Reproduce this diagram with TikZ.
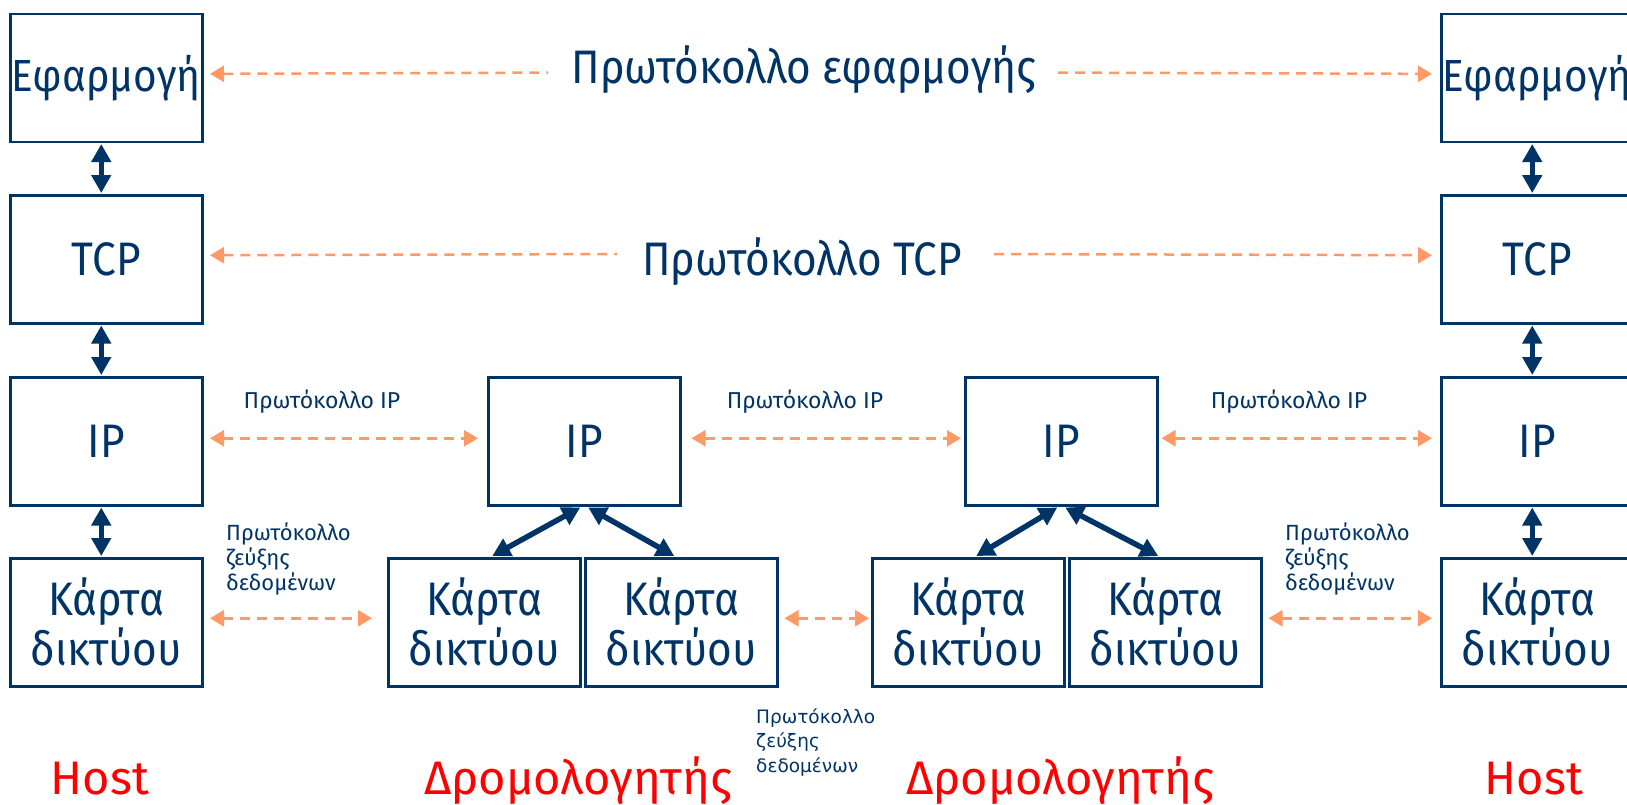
\documentclass[tikz,border=0pt]{standalone}
\usepackage{fontspec}
\setmainfont{Fira Sans}
\newfontfamily\firanarrow{Fira Sans}[FakeStretch=0.9]
\newfontfamily\verdlike{DejaVu Sans}
\usetikzlibrary{arrows.meta}
\definecolor{navy}{RGB}{0,51,102}
\definecolor{peach}{RGB}{255,153,102}
\definecolor{hred}{RGB}{255,0,0}
\newcommand\fbig{\firanarrow\fontsize{47}{50}\selectfont}
\newcommand\fapp{\firanarrow\fontsize{45}{50}\selectfont}
\newcommand\fred{\fontsize{47}{50}\selectfont}
\newcommand\fmid{\fontsize{23}{26}\selectfont}
\newcommand\fsmall{\fontsize{22}{25}\selectfont}
\newcommand\fsmallv{\verdlike\fontsize{18.5}{24.5}\selectfont}
\begin{document}
\begin{tikzpicture}[x=1pt,y=-1pt,
  box/.style={draw=navy, line width=2.5pt, minimum width=192pt, minimum height=128pt,
    anchor=north west, inner sep=0pt, text=navy, font=\fbig, align=center},
  bigl/.style={text=navy, font=\fbig, anchor=base, inner sep=0pt},
  midl/.style={text=navy, font=\fmid, anchor=base, inner sep=0pt},
  smalll/.style={text=navy, font=\fsmall, anchor=north west, align=left, inner sep=0pt},
  redl/.style={text=hred, font=\fred, anchor=base, inner sep=0pt},
  pdash/.style={draw=peach, line width=2.5pt, dash pattern=on 10pt off 7pt,
    arrows={Triangle[length=14pt,width=16pt,fill=peach]-Triangle[length=14pt,width=16pt,fill=peach]}},
  pleft/.style={draw=peach, line width=2.5pt, dash pattern=on 10pt off 7pt,
    arrows={Triangle[length=14pt,width=16pt,fill=peach]-}},
  pright/.style={draw=peach, line width=2.5pt, dash pattern=on 10pt off 7pt,
    arrows={-Triangle[length=14pt,width=16pt,fill=peach]}},
  narrow/.style={draw=navy, line width=5.5pt,
    arrows={Triangle[length=18pt,width=19pt,fill=navy]-Triangle[length=18pt,width=19pt,fill=navy]}}
]
\useasboundingbox (0,0) rectangle (1627,804);
\clip (0,0) rectangle (1627,804);

% left host
\node[box, font=\fapp] (appL) at (9,12.5) {Εφαρμογή};
\node[box] (tcpL) at (9,194) {TCP};
\node[box] (ipL)  at (9,376) {IP};
\node[box] (nicL) at (9,557) {Κάρτα\\δικτύου};
% right host
\node[box, font=\fapp] (appR) at (1440,12.5) {Εφαρμογή};
\node[box] (tcpR) at (1440,194) {TCP};
\node[box] (ipR)  at (1440,376) {IP};
\node[box] (nicR) at (1440,557) {Κάρτα\\δικτύου};
% router 1
\node[box] (ipA) at (487,376) {IP};
\node[box] (nicA1) at (387,557) {Κάρτα\\δικτύου};
\node[box] (nicA2) at (584,557) {Κάρτα\\δικτύου};
% router 2
\node[box] (ipB) at (964,376) {IP};
\node[box] (nicB1) at (871,557) {Κάρτα\\δικτύου};
\node[box] (nicB2) at (1068,557) {Κάρτα\\δικτύου};

% vertical stack arrows
\foreach \a/\b in {appL/tcpL,tcpL/ipL,ipL/nicL,appR/tcpR,tcpR/ipR,ipR/nicR}
  \draw[narrow] ([xshift=-5pt,yshift=-1pt]\a.south) -- ([xshift=-5pt,yshift=1pt]\b.north);

% router internal arrows
\draw[narrow] ([xshift=-4pt,yshift=-1pt]ipA.south) -- ([xshift=8pt,yshift=1pt]nicA1.north);
\draw[narrow] ([xshift=4pt,yshift=-1pt]ipA.south) -- ([xshift=-7pt,yshift=1pt]nicA2.north);
\draw[narrow] ([xshift=-4pt,yshift=-1pt]ipB.south) -- ([xshift=8pt,yshift=1pt]nicB1.north);
\draw[narrow] ([xshift=4pt,yshift=-1pt]ipB.south) -- ([xshift=-7pt,yshift=1pt]nicB2.north);

% application protocol
\node[bigl] (lapp) at (804,83) {Πρωτόκολλο εφαρμογής};
\coordinate (a1) at (548,72.6);
\coordinate (a2) at (1058,72.6);
\draw[pleft] ([xshift=6.5pt,yshift=3.9pt]appL.east) -- (a1);
\draw[pright] (a2) -- ([xshift=-8pt,yshift=3.9pt]appR.west);

% TCP protocol
\node[bigl] (ltcp) at (802,275) {Πρωτόκολλο TCP};
\coordinate (b1) at (617,254);
\coordinate (b2) at (994,254);
\draw[pleft] ([xshift=6.5pt,yshift=4pt]tcpL.east) -- (b1);
\draw[pright] (b2) -- ([xshift=-8pt,yshift=4pt]tcpR.west);

% IP protocol
\node[midl] (lip1) at (322,408) {Πρωτόκολλο IP};
\node[midl] (lip2) at (805,408) {Πρωτόκολλο IP};
\node[midl] (lip3) at (1289,408) {Πρωτόκολλο IP};
\draw[pdash] ([xshift=6.5pt,yshift=3pt]ipL.east) -- ([xshift=-9pt,yshift=3pt]ipA.west);
\draw[pdash] ([xshift=10pt,yshift=3pt]ipA.east) -- ([xshift=-3pt,yshift=3pt]ipB.west);
\draw[pdash] ([xshift=3pt,yshift=3pt]ipB.east) -- ([xshift=-8pt,yshift=3pt]ipR.west);

% link protocol
\node[smalll] (ll1) at (226,523) {Πρωτόκολλο\\ζεύξης\\δεδομένων};
\node[smalll] (ll3) at (1285,523) {Πρωτόκολλο\\ζεύξης\\δεδομένων};
\node[smalll, font=\fsmallv] (ll2) at (756,708) {Πρωτόκολλο\\ζεύξης\\δεδομένων};
\draw[pdash] ([xshift=6.5pt,yshift=4pt]nicL.east) -- ([xshift=-15pt,yshift=4pt]nicA1.west);
\draw[pdash] ([xshift=6pt,yshift=4pt]nicA2.east) -- ([xshift=-2pt,yshift=4pt]nicB1.west);
\draw[pdash] ([xshift=6pt,yshift=4pt]nicB2.east) -- ([xshift=-8pt,yshift=4pt]nicR.west);

% bottom labels
\node[redl] (h1) at (100,794) {Host};
\node[redl] (r1) at (578,794) {Δρομολογητής};
\node[redl] (r2) at (1060,794) {Δρομολογητής};
\node[redl] (h2) at (1534,794) {Host};
\end{tikzpicture}
\end{document}
